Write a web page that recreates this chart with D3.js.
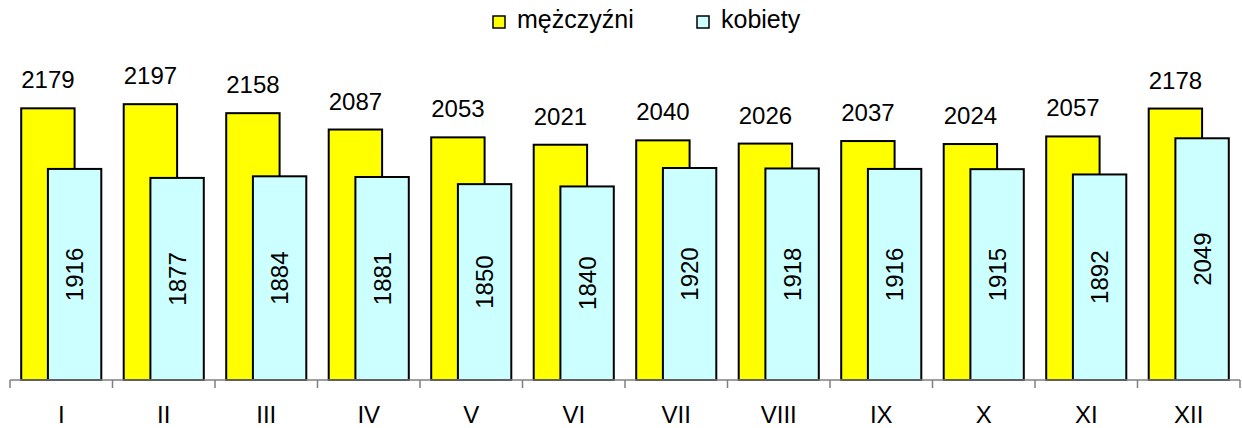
<!DOCTYPE html>
<html>
<head>
<meta charset="utf-8">
<script src="https://cdn.jsdelivr.net/npm/d3@7"></script>
<style>
  body { margin: 0; background: #fff; }
  text { font-family: "Liberation Sans", Arial, sans-serif; fill: #000; }
</style>
</head>
<body>
<div id="chart"></div>
<script>
const months = ['I', 'II', 'III', 'IV', 'V', 'VI', 'VII', 'VIII', 'IX', 'X', 'XI', 'XII'];
const men = [2179, 2197, 2158, 2087, 2053, 2021, 2040, 2026, 2037, 2024, 2057, 2178];
const women = [1916, 1877, 1884, 1881, 1850, 1840, 1920, 1918, 1916, 1915, 1892, 2049];
const seriesNames = ['mężczyźni', 'kobiety'];
const colors = ['#ffff00', '#ccffff'];

const width = 1242, height = 428;
const svg = d3.select('#chart').append('svg')
    .attr('width', width)
    .attr('height', height);

const x = d3.scaleBand().domain(months).range([10, 1240]).padding(0);
const y = d3.scaleLinear().domain([1000, 2400]).range([380, 57.4]);

// bars: width = step/1.92, second bar shifted by half a bar (50% overlap)
const bw = x.step() / 1.92;
const gap = (x.step() - bw * 1.5) / 2;

const menBars = svg.append('g');
menBars.selectAll('rect')
    .data(months)
    .enter()
    .append('rect')
    .attr('x', d => x(d) + gap)
    .attr('y', (d, i) => y(men[i]))
    .attr('width', bw)
    .attr('height', (d, i) => y(1000) - y(men[i]))
    .attr('fill', colors[0])
    .attr('stroke', '#000')
    .attr('stroke-width', 2);

menBars.selectAll('text')
    .data(months)
    .enter()
    .append('text')
    .attr('x', d => x(d) + gap + bw / 2)
    .attr('y', (d, i) => y(men[i]) - 20)
    .attr('text-anchor', 'middle')
    .style('font-size', '24px')
    .text((d, i) => men[i]);

const womenBars = svg.append('g');
womenBars.selectAll('rect')
    .data(months)
    .enter()
    .append('rect')
    .attr('x', d => x(d) + gap + bw / 2)
    .attr('y', (d, i) => y(women[i]))
    .attr('width', bw)
    .attr('height', (d, i) => y(1000) - y(women[i]))
    .attr('fill', colors[1])
    .attr('stroke', '#000')
    .attr('stroke-width', 2);

womenBars.selectAll('text')
    .data(months)
    .enter()
    .append('text')
    .attr('transform', (d, i) => {
        const cx = x(d) + gap + bw;
        const cy = (y(women[i]) + y(1000)) / 2;
        return `translate(${cx},${cy}) rotate(-90)`;
    })
    .attr('text-anchor', 'middle')
    .attr('dy', '0.36em')
    .style('font-size', '24px')
    .text((d, i) => women[i]);

// x axis
const axis = svg.append('g')
    .attr('transform', 'translate(0,380)')
    .call(d3.axisBottom(x).tickSize(0).tickSizeOuter(0));
axis.select('.domain').remove();
axis.selectAll('text')
    .attr('y', 43)
    .attr('dy', 0)
    .style('font-size', '24px')
    .style('font-family', '"Liberation Sans", Arial, sans-serif');

axis.append('line')
    .attr('x1', x.range()[0])
    .attr('x2', x.range()[1])
    .attr('stroke', '#808080')
    .attr('stroke-width', 1.5);

const bounds = months.map(m => x(m)).concat([x.range()[1]]);
axis.selectAll('.bound')
    .data(bounds)
    .enter()
    .append('line')
    .attr('class', 'bound')
    .attr('x1', d => d)
    .attr('x2', d => d)
    .attr('y1', 0)
    .attr('y2', 8)
    .attr('stroke', '#808080')
    .attr('stroke-width', 1.5);

// legend
const legendX = [493, 697];
const legend = svg.append('g');
seriesNames.forEach((name, i) => {
    legend.append('rect')
        .attr('x', legendX[i])
        .attr('y', 16)
        .attr('width', 12)
        .attr('height', 12)
        .attr('fill', colors[i])
        .attr('stroke', '#000')
        .attr('stroke-width', 1.5);
    legend.append('text')
        .attr('x', legendX[i] + 24)
        .attr('y', 28)
        .style('font-size', '25px')
        .text(name);
});
</script>
</body>
</html>
